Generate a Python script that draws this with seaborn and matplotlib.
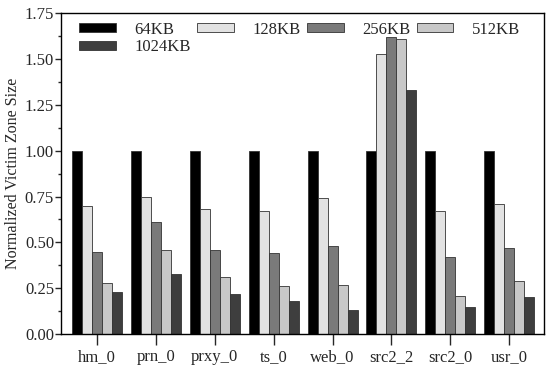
import seaborn as sns
import matplotlib.pyplot as plt
import pandas as pd
from matplotlib.ticker import MultipleLocator

traces = ['hm_0', 'prn_0', 'prxy_0', 'ts_0', 'web_0', 'src2_2', 'src2_0', 'usr_0']
tamanhos = ['64KB', '128KB', '256KB', '512KB', '1024KB']
v64 = [1.00, 1.00, 1.00, 1.00, 1.00, 1.00, 1.00, 1.00]
v128 = [0.70, 0.75, 0.68, 0.67, 0.74, 1.53, 0.67, 0.71]
v256 = [0.45, 0.61, 0.46, 0.44, 0.48, 1.62, 0.42, 0.47]
v512 = [0.28, 0.46, 0.31, 0.26, 0.27, 1.61, 0.21, 0.29]
v1024 = [0.23, 0.33, 0.22, 0.18, 0.13, 1.33, 0.15, 0.20]
cores = ['#000000', '#e2e2e2', '#7a7a7a', '#c8c8c8', '#3e3e3e']

valores = [v64, v128, v256, v512, v1024]
linhas = []
for tam, vals in zip(tamanhos, valores):
    for tr, v in zip(traces, vals):
        linhas.append({'Trace': tr, 'Tamanho': tam, 'Valor': v})
df = pd.DataFrame(linhas)

sns.set_style('ticks')
plt.rcParams['font.family'] = ['Liberation Serif', 'DejaVu Serif']

fig, ax = plt.subplots(figsize=(5.5, 3.77), dpi=100)
sns.barplot(data=df, x='Trace', y='Valor', hue='Tamanho', hue_order=tamanhos,
            palette=cores, width=0.85, edgecolor='#333333', linewidth=0.6,
            saturation=1, ax=ax)

ax.set_xlim(-0.61, 7.59)
ax.set_ylim(0, 1.75)
ax.yaxis.set_major_locator(MultipleLocator(0.25))
ax.yaxis.set_minor_locator(MultipleLocator(0.125))
ax.yaxis.set_major_formatter(plt.FormatStrFormatter('%.2f'))
ax.set_xlabel('')
ax.set_ylabel('Normalized Victim Zone Size', fontsize=11.5, labelpad=3)
ax.tick_params(axis='y', which='major', direction='out', length=4, width=1, labelsize=12, pad=1)
ax.tick_params(axis='y', which='minor', direction='out', length=2.5, width=1)
ax.tick_params(axis='x', which='major', direction='out', length=8, width=1, labelsize=12, pad=3)
for s in ax.spines.values():
    s.set_visible(True)
    s.set_linewidth(1)
    s.set_color('black')

# ordem da legenda: linha 1 = 64,128,256,512 ; linha 2 = 1024
handles, labels = ax.get_legend_handles_labels()
ordem = [0, 4, 1, 2, 3]
ax.legend([handles[i] for i in ordem], [labels[i] for i in ordem],
          ncol=4, loc='upper left', frameon=False, fontsize=12,
          handlelength=2.2, handleheight=0.45, handletextpad=1.1,
          columnspacing=0.4, borderaxespad=0.1, labelspacing=0.1,
          bbox_to_anchor=(0.02, 1.0))

fig.subplots_adjust(left=0.111, right=0.989, top=0.965, bottom=0.114)
fig.savefig('out.png', dpi=100)
